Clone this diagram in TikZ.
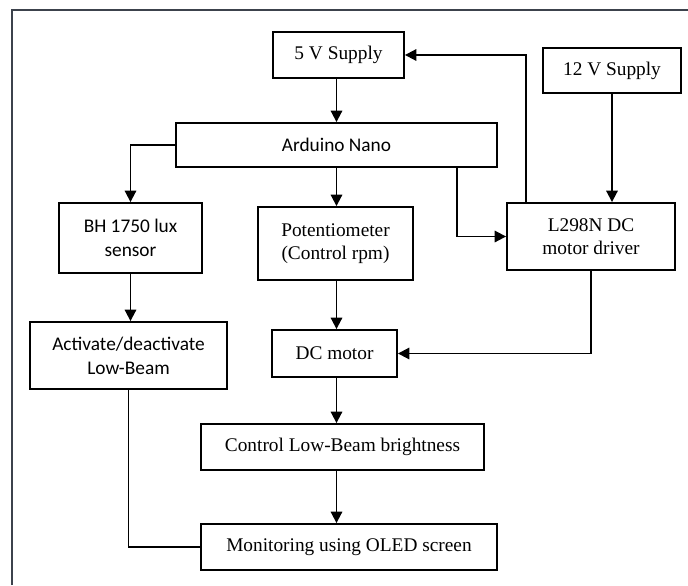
\documentclass[tikz,border=0pt]{standalone}
\usepackage{fontspec}
\setmainfont{Liberation Serif}
\newfontfamily\sansfnt{Carlito}
\usetikzlibrary{arrows.meta}
\begin{document}
\begin{tikzpicture}[x=0.75pt,y=-0.75pt,
  box/.style={draw=black,line width=1.4pt,rectangle,align=center,inner sep=0pt,
    font=\fontsize{14.5}{17.5}\selectfont},
  sbox/.style={box,font=\sansfnt\fontsize{14.5}{18}\selectfont},
  arr/.style={line width=1.4pt,-{Triangle[length=8.5pt,width=8.5pt]}},
  ln/.style={line width=1.4pt}]
\useasboundingbox (0,0) rectangle (688,585);
\draw[line width=1.6pt,color={rgb,255:red,60;green,66;blue,76}] (12,585) -- (12,10) -- (688,10);
% nodes
\node[box,minimum width=131*0.75pt,minimum height=46*0.75pt] (s5) at (338.5,55) {5 V Supply};
\node[box,minimum width=138*0.75pt,minimum height=45*0.75pt] (s12) at (612,70.5) {12 V Supply};
\node[sbox,minimum width=321*0.75pt,minimum height=44*0.75pt] (ard) at (336.5,145) {Arduino Nano};
\node[sbox,minimum width=143*0.75pt,minimum height=70*0.75pt] (bh) at (130.5,238) {BH 1750 lux\\sensor};
\node[box,minimum width=155*0.75pt,minimum height=73*0.75pt] (pot) at (335.5,243.5) {Potentiometer\\(Control rpm)};
\node[box,minimum width=168*0.75pt,minimum height=67*0.75pt] (drv) at (591,236.5) {L298N DC\\motor driver};
\node[sbox,minimum width=197*0.75pt,minimum height=67*0.75pt] (act) at (128.5,355.5) {Activate/deactivate\\Low-Beam};
\node[box,minimum width=125*0.75pt,minimum height=47*0.75pt] (dcm) at (334.5,353.5) {DC motor};
\node[box,minimum width=283*0.75pt,minimum height=46*0.75pt] (ctl) at (342.5,447) {Control Low-Beam brightness};
\node[box,minimum width=296*0.75pt,minimum height=46*0.75pt] (mon) at (349,547) {Monitoring using OLED screen};
% helper columns
\coordinate (cx) at (336.5,0);
\coordinate (k1) at (457,0);
\coordinate (k2) at (526,0);
% connectors
\draw[arr] (s5.south -| cx) -- (ard.north -| cx);
\draw[arr] (ard.south -| cx) -- (pot.north -| cx);
\draw[arr] (pot.south -| cx) -- (dcm.north -| cx);
\draw[arr] (dcm.south -| cx) -- (ctl.north -| cx);
\draw[arr] (ctl.south -| cx) -- (mon.north -| cx);
\draw[arr] (ard.west) -| (bh.north);
\draw[arr] (bh.south) -- (bh.south |- act.north);
\draw[ln] (act.south) |- (mon.west);
\draw[arr] (ard.south -| k1) |- (drv.west);
\draw[arr] (drv.north -| k2) |- (s5.east);
\draw[arr] (s12.south) -- (s12.south |- drv.north);
\draw[arr] (drv.south) |- (dcm.east);
\end{tikzpicture}
\end{document}
